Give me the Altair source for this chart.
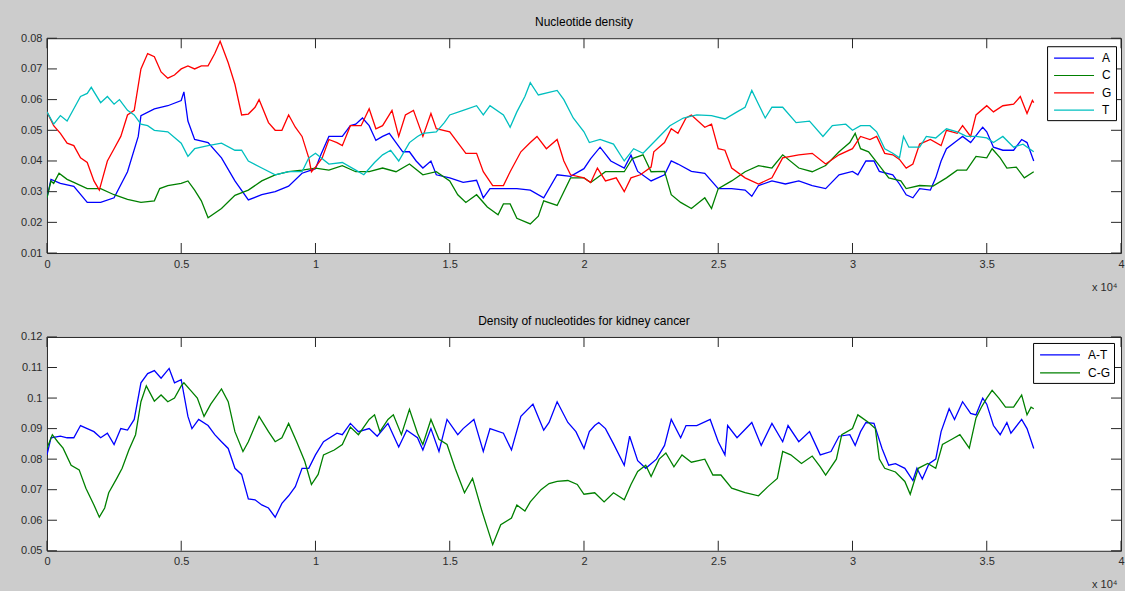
import altair as alt
import pandas as pd

# ---------------- data ----------------
A_x = [0, 150, 500, 1000, 1500, 2000, 2500, 3000, 3400, 3500, 4000, 4500, 5000, 5100, 5250, 5500, 6000, 6500, 7000, 7500, 8000, 8500, 9000, 9500, 10000, 10200, 10500, 11000, 11300, 11500, 11750, 12000, 12250, 12500, 12750, 13000, 13250, 13500, 13750, 14000, 14300, 14500, 15000, 15500, 16000, 16250, 16500, 17000, 17500, 18000, 18500, 19000, 19500, 20000, 20250, 20600, 21000, 21500, 21750, 22000, 22500, 23000, 23250, 23500, 24000, 24500, 25000, 25500, 26000, 26250, 26500, 27000, 27500, 28000, 28500, 29000, 29500, 30000, 30200, 30500, 30800, 31000, 31500, 31750, 32000, 32250, 32500, 32900, 33100, 33300, 33500, 33900, 34100, 34400, 34750, 34850, 35000, 35250, 35600, 36000, 36300, 36500, 36750]
A_y = [0.028, 0.034, 0.0327, 0.0317, 0.0265, 0.0265, 0.028, 0.0365, 0.048, 0.0548, 0.057, 0.058, 0.0597, 0.0625, 0.053, 0.047, 0.046, 0.041, 0.0335, 0.0273, 0.029, 0.030, 0.0318, 0.036, 0.0375, 0.042, 0.048, 0.048, 0.0515, 0.052, 0.054, 0.0515, 0.0467, 0.048, 0.049, 0.046, 0.043, 0.043, 0.040, 0.0377, 0.040, 0.0355, 0.0345, 0.033, 0.0337, 0.028, 0.031, 0.031, 0.031, 0.0305, 0.028, 0.0355, 0.035, 0.0375, 0.0408, 0.0445, 0.040, 0.0377, 0.0419, 0.0366, 0.0335, 0.0355, 0.040, 0.039, 0.0366, 0.036, 0.031, 0.031, 0.0305, 0.0285, 0.032, 0.0335, 0.0325, 0.0335, 0.032, 0.031, 0.0355, 0.0366, 0.0355, 0.040, 0.040, 0.0366, 0.0355, 0.0325, 0.029, 0.028, 0.031, 0.0305, 0.0345, 0.040, 0.044, 0.0467, 0.048, 0.046, 0.050, 0.051, 0.0495, 0.0445, 0.0435, 0.0435, 0.047, 0.046, 0.040]

C_x = [0, 150, 250, 450, 750, 1000, 1500, 2000, 2500, 3000, 3500, 4000, 4200, 4500, 5000, 5250, 5500, 5750, 6000, 6500, 7000, 7500, 8000, 8500, 9000, 9500, 10000, 10500, 11000, 11500, 12000, 12500, 13000, 13500, 14000, 14500, 15000, 15300, 15600, 16000, 16400, 16800, 17000, 17250, 17500, 18000, 18300, 18500, 19000, 19500, 20000, 20250, 20800, 21500, 21800, 22200, 22500, 23000, 23250, 23600, 24000, 24500, 24750, 25000, 25500, 26000, 26500, 27000, 27400, 28000, 28500, 29000, 29500, 29900, 30100, 30300, 30600, 31000, 31350, 31800, 32000, 32500, 33000, 33500, 33900, 34250, 34600, 35000, 35200, 35500, 35750, 36100, 36400, 36750]
C_y = [0.028, 0.0335, 0.0327, 0.036, 0.034, 0.033, 0.031, 0.031, 0.029, 0.0275, 0.0265, 0.027, 0.031, 0.032, 0.0327, 0.0335, 0.0305, 0.027, 0.0215, 0.0245, 0.0288, 0.0305, 0.0335, 0.0355, 0.0365, 0.037, 0.0377, 0.037, 0.0385, 0.0365, 0.0365, 0.0377, 0.0365, 0.039, 0.0355, 0.0365, 0.0335, 0.029, 0.0265, 0.029, 0.025, 0.0225, 0.026, 0.026, 0.0213, 0.0195, 0.022, 0.027, 0.0255, 0.0345, 0.0345, 0.033, 0.0365, 0.0365, 0.0408, 0.042, 0.0365, 0.0366, 0.029, 0.0265, 0.0245, 0.028, 0.0245, 0.031, 0.0335, 0.0365, 0.0385, 0.0377, 0.042, 0.0377, 0.0365, 0.0385, 0.043, 0.046, 0.049, 0.044, 0.043, 0.0385, 0.0345, 0.0335, 0.031, 0.032, 0.0318, 0.0345, 0.037, 0.037, 0.0415, 0.041, 0.044, 0.041, 0.0377, 0.038, 0.0345, 0.0365]

G_x = [0, 250, 500, 750, 1000, 1250, 1500, 1750, 1950, 2250, 2500, 2750, 3000, 3250, 3500, 3750, 4000, 4250, 4500, 4750, 5000, 5250, 5500, 5750, 6000, 6250, 6450, 6750, 7000, 7250, 7500, 7750, 7900, 8250, 8500, 8750, 9000, 9250, 9500, 9750, 9850, 10000, 10250, 10500, 10800, 11000, 11300, 11700, 12000, 12250, 12500, 12850, 13100, 13350, 13650, 14000, 14300, 14500, 15000, 15300, 15600, 16000, 16250, 16600, 17000, 17250, 17650, 18000, 18250, 18600, 19000, 19250, 19500, 20000, 20250, 20500, 20800, 21200, 21500, 21750, 22100, 22500, 22600, 23000, 23250, 23500, 23800, 24000, 24500, 24750, 25000, 25250, 25500, 26000, 26500, 27000, 27400, 28000, 28500, 29000, 29500, 30000, 30300, 30650, 30900, 31200, 31500, 31750, 32000, 32250, 32500, 32900, 33300, 33500, 33900, 34100, 34400, 34600, 35000, 35250, 35600, 36000, 36250, 36500, 36700, 36750]
G_y = [0.056, 0.0515, 0.049, 0.0458, 0.045, 0.041, 0.0395, 0.0335, 0.0305, 0.040, 0.044, 0.048, 0.055, 0.0565, 0.070, 0.075, 0.074, 0.069, 0.067, 0.068, 0.070, 0.071, 0.070, 0.071, 0.071, 0.075, 0.079, 0.072, 0.065, 0.055, 0.0553, 0.0575, 0.060, 0.0525, 0.050, 0.050, 0.055, 0.051, 0.048, 0.041, 0.0365, 0.038, 0.041, 0.047, 0.046, 0.045, 0.0515, 0.0515, 0.057, 0.0505, 0.0515, 0.0565, 0.048, 0.055, 0.0565, 0.048, 0.0555, 0.0505, 0.0495, 0.046, 0.0425, 0.0425, 0.0365, 0.032, 0.032, 0.0365, 0.043, 0.046, 0.048, 0.044, 0.047, 0.040, 0.0355, 0.0345, 0.033, 0.0377, 0.0335, 0.0345, 0.030, 0.0345, 0.0355, 0.038, 0.043, 0.046, 0.0505, 0.049, 0.054, 0.055, 0.051, 0.052, 0.044, 0.0435, 0.0377, 0.0345, 0.0325, 0.0345, 0.041, 0.042, 0.0425, 0.039, 0.042, 0.044, 0.048, 0.047, 0.048, 0.0425, 0.042, 0.0405, 0.0377, 0.039, 0.0455, 0.047, 0.045, 0.050, 0.049, 0.0515, 0.048, 0.055, 0.058, 0.056, 0.058, 0.0585, 0.061, 0.0555, 0.0597, 0.059]

T_x = [0, 250, 500, 750, 1000, 1250, 1500, 1650, 2000, 2250, 2500, 2700, 3000, 3250, 3500, 3750, 4000, 4500, 5000, 5250, 5500, 6000, 6500, 7000, 7250, 7500, 8000, 8500, 9000, 9500, 9750, 10000, 10500, 11000, 11500, 11800, 12200, 12500, 12800, 13100, 13500, 13800, 14000, 14500, 14800, 15000, 15500, 16000, 16250, 16500, 17000, 17250, 17500, 17800, 18000, 18300, 19000, 19250, 19600, 20000, 20200, 20600, 21100, 21500, 21850, 22200, 22700, 23200, 23700, 24200, 24750, 25250, 25700, 26000, 26250, 26500, 26750, 27000, 27400, 27900, 28400, 28900, 29250, 29750, 30000, 30300, 30650, 30900, 31200, 31500, 31750, 31900, 32100, 32500, 32750, 33100, 33500, 33900, 34250, 34600, 35000, 35250, 35600, 36000, 36350, 36750]
T_y = [0.056, 0.052, 0.0548, 0.053, 0.057, 0.061, 0.062, 0.064, 0.059, 0.061, 0.0585, 0.060, 0.0565, 0.055, 0.052, 0.0515, 0.050, 0.0495, 0.0458, 0.0415, 0.044, 0.045, 0.0458, 0.0435, 0.0435, 0.040, 0.0377, 0.0355, 0.0365, 0.0365, 0.041, 0.0425, 0.039, 0.0395, 0.037, 0.0355, 0.0395, 0.042, 0.0435, 0.040, 0.046, 0.048, 0.049, 0.0495, 0.0525, 0.055, 0.0565, 0.058, 0.055, 0.058, 0.055, 0.051, 0.056, 0.061, 0.0655, 0.0615, 0.063, 0.060, 0.054, 0.0495, 0.046, 0.047, 0.0455, 0.040, 0.044, 0.0425, 0.047, 0.0515, 0.054, 0.055, 0.0548, 0.0537, 0.056, 0.0575, 0.063, 0.0585, 0.054, 0.0575, 0.0575, 0.0525, 0.053, 0.048, 0.0515, 0.052, 0.050, 0.0515, 0.0515, 0.0495, 0.044, 0.0425, 0.041, 0.048, 0.0445, 0.0445, 0.048, 0.0475, 0.0505, 0.0495, 0.048, 0.048, 0.0475, 0.046, 0.048, 0.0445, 0.0455, 0.043]

AT_x = [0, 150, 500, 750, 1000, 1250, 1500, 1750, 2000, 2250, 2500, 2750, 3000, 3250, 3500, 3750, 4000, 4250, 4550, 4750, 5000, 5250, 5400, 5650, 6000, 6250, 6500, 6750, 7000, 7250, 7500, 7750, 8000, 8250, 8500, 8750, 9000, 9250, 9500, 9750, 10000, 10300, 10800, 11000, 11300, 11600, 12000, 12300, 12700, 13100, 13400, 13800, 14000, 14300, 14600, 14900, 15300, 15500, 15900, 16250, 16500, 17000, 17300, 17650, 18100, 18500, 18700, 19000, 19400, 19700, 20000, 20200, 20400, 20550, 20800, 21100, 21500, 21700, 22000, 22300, 22700, 23000, 23250, 23600, 23800, 24200, 24700, 25000, 25250, 25350, 25700, 26250, 26600, 27000, 27400, 27600, 28000, 28400, 28800, 29200, 29500, 29900, 30100, 30300, 30500, 30800, 31100, 31350, 31600, 31950, 32250, 32400, 32600, 32850, 33100, 33300, 33600, 33800, 34100, 34400, 34600, 34850, 35000, 35250, 35500, 35750, 35900, 36300, 36500, 36750]
AT_y = [0.0814, 0.087, 0.0875, 0.087, 0.087, 0.091, 0.090, 0.089, 0.087, 0.0885, 0.0848, 0.090, 0.0895, 0.093, 0.105, 0.108, 0.109, 0.1065, 0.1097, 0.105, 0.106, 0.094, 0.090, 0.093, 0.091, 0.088, 0.0857, 0.0835, 0.077, 0.075, 0.067, 0.0667, 0.065, 0.064, 0.061, 0.0655, 0.068, 0.071, 0.077, 0.077, 0.0814, 0.0857, 0.0885, 0.088, 0.0917, 0.089, 0.090, 0.0875, 0.0917, 0.084, 0.0895, 0.087, 0.083, 0.090, 0.0825, 0.093, 0.088, 0.090, 0.093, 0.0825, 0.090, 0.0885, 0.083, 0.094, 0.098, 0.0895, 0.092, 0.0988, 0.092, 0.089, 0.0835, 0.089, 0.091, 0.092, 0.090, 0.085, 0.078, 0.0875, 0.0795, 0.077, 0.080, 0.0845, 0.093, 0.087, 0.091, 0.091, 0.093, 0.0857, 0.0814, 0.091, 0.087, 0.092, 0.0845, 0.0917, 0.0857, 0.091, 0.0857, 0.089, 0.0814, 0.0825, 0.0875, 0.088, 0.0845, 0.089, 0.092, 0.0917, 0.0835, 0.078, 0.0785, 0.077, 0.073, 0.077, 0.0735, 0.0785, 0.080, 0.089, 0.0965, 0.093, 0.0988, 0.095, 0.0945, 0.100, 0.098, 0.091, 0.088, 0.092, 0.0885, 0.093, 0.090, 0.0835]

CG_x = [0, 200, 400, 600, 900, 1200, 1450, 1750, 1950, 2150, 2300, 2600, 2800, 3050, 3300, 3500, 3700, 4000, 4250, 4500, 4750, 5000, 5100, 5350, 5600, 5850, 6100, 6500, 6750, 7000, 7300, 7500, 7900, 8250, 8500, 8750, 9000, 9300, 9600, 9850, 10100, 10300, 10700, 11000, 11300, 11600, 12000, 12200, 12400, 12700, 12900, 13200, 13500, 13800, 14000, 14300, 14600, 14900, 15200, 15550, 15850, 16200, 16400, 16600, 16900, 17300, 17500, 17800, 18000, 18400, 18700, 19000, 19400, 19750, 20000, 20400, 20750, 21100, 21500, 21750, 22000, 22300, 22500, 22800, 23050, 23350, 23650, 24000, 24500, 24800, 25100, 25500, 26000, 26500, 26850, 27200, 27400, 27700, 28100, 28500, 28800, 29000, 29400, 29600, 30000, 30200, 30600, 30850, 31000, 31200, 31600, 31950, 32150, 32450, 32800, 33100, 33350, 33700, 34000, 34350, 34600, 34800, 35000, 35200, 35450, 35700, 36000, 36300, 36500, 36650, 36750]
CG_y = [0.0836, 0.088, 0.0857, 0.0836, 0.078, 0.0765, 0.0705, 0.065, 0.061, 0.064, 0.069, 0.0737, 0.077, 0.083, 0.088, 0.0988, 0.104, 0.099, 0.101, 0.0988, 0.100, 0.104, 0.105, 0.1025, 0.100, 0.094, 0.098, 0.103, 0.0988, 0.089, 0.0825, 0.0857, 0.094, 0.089, 0.0857, 0.087, 0.0917, 0.0857, 0.0793, 0.0717, 0.075, 0.0814, 0.083, 0.0848, 0.0905, 0.088, 0.093, 0.0945, 0.089, 0.093, 0.0945, 0.088, 0.0963, 0.0885, 0.0848, 0.093, 0.0865, 0.0848, 0.077, 0.069, 0.0737, 0.063, 0.0575, 0.052, 0.0585, 0.0607, 0.065, 0.063, 0.066, 0.070, 0.072, 0.0727, 0.073, 0.0717, 0.0685, 0.069, 0.066, 0.069, 0.0667, 0.0717, 0.076, 0.078, 0.0743, 0.080, 0.082, 0.0775, 0.0814, 0.079, 0.080, 0.0748, 0.0748, 0.0705, 0.069, 0.068, 0.071, 0.0737, 0.0825, 0.0814, 0.0786, 0.081, 0.0775, 0.0748, 0.080, 0.088, 0.090, 0.0945, 0.092, 0.090, 0.080, 0.077, 0.0758, 0.0727, 0.0685, 0.077, 0.0786, 0.077, 0.0848, 0.0865, 0.088, 0.0836, 0.0935, 0.097, 0.100, 0.1025, 0.100, 0.097, 0.097, 0.101, 0.0945, 0.097, 0.0965]

top_names = ["A", "C", "G", "T"]
top_colors = ["#0000ff", "#008000", "#ff0000", "#00bfbf"]
bot_names = ["A-T", "C-G"]
bot_colors = ["#0000ff", "#008000"]

x_ticks = [0, 5000, 10000, 15000, 20000, 25000, 30000, 35000, 40000]
top_y_ticks = [0.01, 0.02, 0.03, 0.04, 0.05, 0.06, 0.07, 0.08]
bot_y_ticks = [0.05, 0.06, 0.07, 0.08, 0.09, 0.10, 0.11, 0.12]


def long(name, xs, ys):
    return pd.DataFrame({"series": name, "pos": xs, "val": ys})


top_df = pd.concat([long("A", A_x, A_y), long("C", C_x, C_y),
                    long("G", G_x, G_y), long("T", T_x, T_y)], ignore_index=True)
bot_df = pd.concat([long("A-T", AT_x, AT_y), long("C-G", CG_x, CG_y)], ignore_index=True)

# ---------------- styling ----------------
W = 1075
FONT = "Liberation Sans"
AXC = "#262626"
TXT = "#2b2b2b"
TL = 10


def panel(df, title, names, colors, yticks, H, lx, ly, lpad, lrow, loff):
    xs = alt.Scale(domain=[0, 40000], nice=False, zero=False)
    ys = alt.Scale(domain=[yticks[0], yticks[-1]], nice=False, zero=False)
    x_axis = alt.Axis(values=x_ticks, labelExpr="format(datum.value/10000, '~g')",
                      ticks=False, domain=False, grid=False, labelPadding=5,
                      labelFontSize=11, labelFont=FONT, labelColor=TXT,
                      labelFlush=False, labelOverlap=False,
                      title="x 10\u2074", titleFont=FONT, titleFontSize=11,
                      titleFontWeight="normal", titleColor=TXT,
                      titleAnchor="end", titleAlign="right",
                      titleBaseline="alphabetic", titleX=W - 4, titleY=37)
    y_axis = alt.Axis(values=yticks, format=".2~f", ticks=False, domain=False,
                      grid=False, labelPadding=5, labelFontSize=11, labelFont=FONT,
                      labelColor=TXT, labelOverlap=False, labelFlush=False, title=None)
    X = alt.X("pos:Q", scale=xs, axis=x_axis)
    Y = alt.Y("val:Q", scale=ys, axis=y_axis)

    legend = alt.Legend(orient="none", legendX=lx, legendY=ly, title=None,
                        symbolType="M-2.857,0H2.857", symbolSize=196,
                        symbolStrokeWidth=1.2, symbolOffset=15, labelOffset=loff,
                        labelFontSize=12, labelFont=FONT, labelColor="black",
                        padding=lpad, rowPadding=lrow, strokeColor="black",
                        fillColor="white", cornerRadius=0)

    lines = alt.Chart(df).mark_line(strokeWidth=1.3, clip=True).encode(
        x=X, y=Y,
        color=alt.Color("series:N", scale=alt.Scale(domain=names, range=colors),
                        legend=legend),
    )

    xt = pd.DataFrame({"pos": x_ticks})
    yt = pd.DataFrame({"val": yticks})
    tk = dict(color=AXC, thickness=1, size=TL, opacity=1)
    t1 = alt.Chart(xt).mark_tick(orient="vertical", **tk).encode(x=X, y=alt.value(TL / 2))
    t2 = alt.Chart(xt).mark_tick(orient="vertical", **tk).encode(x=X, y=alt.value(H - TL / 2))
    t3 = alt.Chart(yt).mark_tick(orient="horizontal", **tk).encode(y=Y, x=alt.value(TL / 2))
    t4 = alt.Chart(yt).mark_tick(orient="horizontal", **tk).encode(y=Y, x=alt.value(W - TL / 2))

    return alt.layer(lines, t1, t2, t3, t4).properties(
        width=W, height=H,
        title=alt.TitleParams(title, font=FONT, fontSize=12, fontWeight="normal",
                              color="black", offset=3),
    )


top = panel(top_df, "Nucleotide density", top_names, top_colors, top_y_ticks,
            215, 1001, 8, 4, 3.3, 20)
bottom = panel(bot_df, "Density of nucleotides for kidney cancer", bot_names,
               bot_colors, bot_y_ticks, 214, 987, 6, 4, 4, 20)

chart = alt.vconcat(top, bottom, spacing=21).resolve_scale(
    color="independent"
).resolve_legend(
    color="independent"
).properties(
    padding={"left": 20, "top": 15, "right": 0, "bottom": 0},
    background="#cccccc",
).configure_view(
    fill="white", stroke=AXC, strokeWidth=1
)

chart.save("out.html", embed_options={"renderer": "svg", "actions": False})
